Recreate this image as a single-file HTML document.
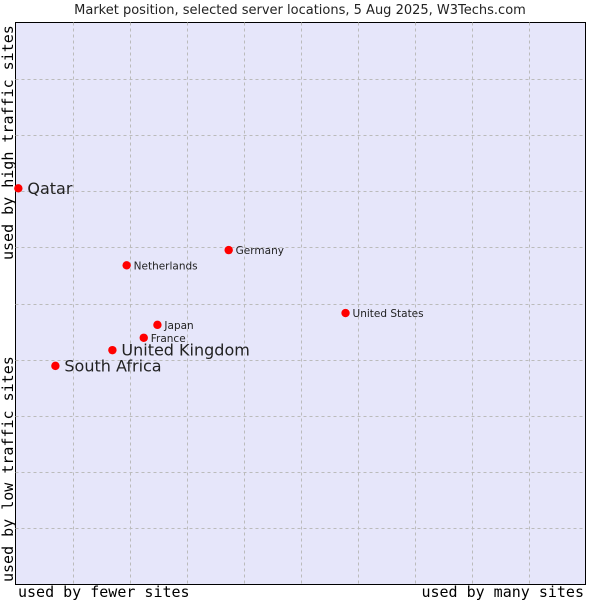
<!DOCTYPE html>
<html><head><meta charset="utf-8"><style>
body{margin:0;background:#fff;}
svg text{font-family:"DejaVu Sans","Liberation Sans",sans-serif;}
.mono{font-family:"DejaVu Sans Mono","Liberation Mono",monospace;}
</style></head><body>
<svg id="chart" width="600" height="600" xmlns="http://www.w3.org/2000/svg">
<text x="300" y="14" text-anchor="middle" font-size="13" fill="#222">Market position, selected server locations, 5 Aug 2025, W3Techs.com</text>
<rect x="15.5" y="22.5" width="570" height="562" fill="#e6e6fa" stroke="#000" stroke-width="1"/>
<g id="grid"></g>
<g id="points"></g>
<text class="mono" x="18" y="597" font-size="15" fill="#000">used by fewer sites</text>
<text class="mono" x="584" y="597" font-size="15" fill="#000" text-anchor="end">used by many sites</text>
<text class="mono" transform="translate(13,260) rotate(-90)" font-size="15" fill="#000">used by high traffic sites</text>
<text class="mono" transform="translate(13,582) rotate(-90)" font-size="15" fill="#000">used by low traffic sites</text>
</svg>
<script>
const countries=["Qatar","Germany","Netherlands","United States","Japan","France","United Kingdom","South Africa"];
const xValues=[0.5,37.4,19.5,57.9,24.9,22.5,17.0,7.0];
const yValues=[70.5,59.5,56.8,48.3,46.2,43.9,41.7,38.9];
const highlighted=[true,false,false,false,false,false,true,true];
const L=15.5,R=585.5,T=22.5,B=584.5;
const xs=v=>L+(R-L)*v/100;
const ys=v=>B-(B-T)*v/100;
const ns="http://www.w3.org/2000/svg";
const grid=document.getElementById('grid');
for(let i=1;i<10;i++){
  const gx=Math.round(xs(i*10))+0.5, gy=Math.round(ys(i*10))+0.5;
  const v=document.createElementNS(ns,'line');
  
  
  v.setAttribute('x1',gx);v.setAttribute('x2',gx);v.setAttribute('y1',T);v.setAttribute('y2',B);
  v.setAttribute('stroke','#bbb');v.setAttribute('stroke-dasharray','3,3');
  grid.appendChild(v);
  const h=document.createElementNS(ns,'line');
  
  
  h.setAttribute('x1',L);h.setAttribute('x2',R);h.setAttribute('y1',gy);h.setAttribute('y2',gy);
  h.setAttribute('stroke','#bbb');h.setAttribute('stroke-dasharray','3,3');
  grid.appendChild(h);
}
const pts=document.getElementById('points');
countries.forEach((c,i)=>{
  const cx=xs(xValues[i]), cy=ys(yValues[i]);
  const d=document.createElementNS(ns,'circle');
  
  
  d.setAttribute('cx',cx);d.setAttribute('cy',cy);d.setAttribute('r',4.2);d.setAttribute('fill','#f00');
  pts.appendChild(d);
  const t=document.createElementNS(ns,'text');
  
  
  const big=highlighted[i];
  t.setAttribute('x',cx+(big?9:7));
  t.setAttribute('y',cy+(big?5.5:4));
  t.setAttribute('font-size',big?16:10.5);
  t.setAttribute('fill','#222');
  t.textContent=c;
  pts.appendChild(t);
});
</script>
</body></html>
